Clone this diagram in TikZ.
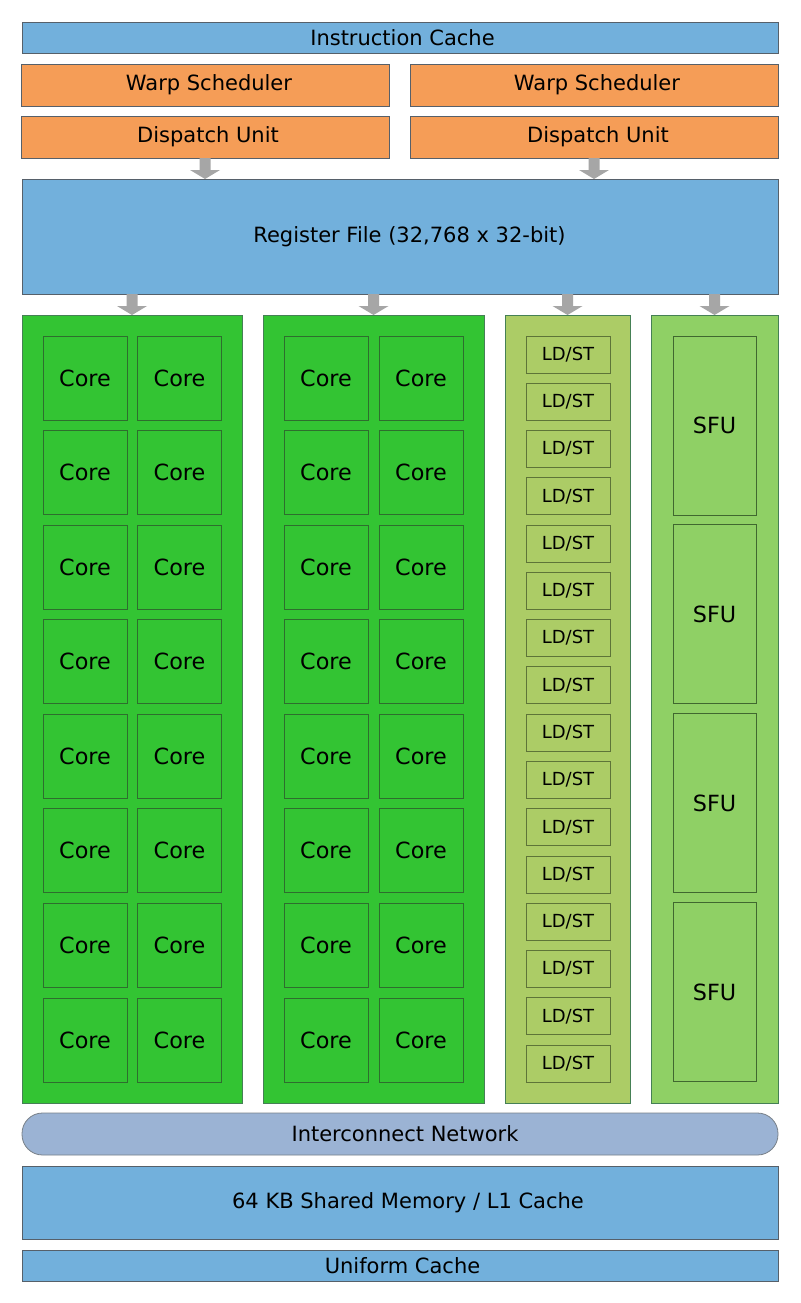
\documentclass[tikz,border=0pt]{standalone}
\usepackage{fontspec}
\setmainfont{DejaVu Sans}
\usetikzlibrary{calc}
\definecolor{cblue}{HTML}{72B0DC}
\definecolor{corange}{HTML}{F59D57}
\definecolor{cgreen}{HTML}{33C433}
\definecolor{cldst}{HTML}{ACCC66}
\definecolor{csfu}{HTML}{8FD065}
\definecolor{cicn}{HTML}{9BB3D4}
\definecolor{carrow}{HTML}{A6A6A6}
\definecolor{cstroke}{HTML}{56606A}
\definecolor{cgstroke}{HTML}{2E6E2E}
\definecolor{clstroke}{HTML}{5E7438}
\definecolor{csstroke}{HTML}{40682F}
\tikzset{
  box/.style={draw=cstroke, line width=0.8pt, inner sep=0pt, outer sep=0pt, rectangle, align=center},
  bigtext/.style={font=\fontsize{21}{24}\selectfont},
  bluebox/.style={box, bigtext, fill=cblue, minimum width=756pt},
  orangebox/.style={box, bigtext, fill=corange, minimum width=368pt, minimum height=42pt},
  column/.style={box, draw=cstroke!80!green, minimum height=788pt},
  corebox/.style={box, draw=cgstroke, fill=cgreen, minimum width=84pt, minimum height=84pt, font=\fontsize{22.3}{26}\selectfont},
  ldstbox/.style={box, draw=clstroke, fill=cldst, minimum width=84pt, minimum height=37pt, font=\fontsize{18}{21}\selectfont},
  sfubox/.style={box, draw=csstroke, fill=csfu, minimum width=83pt, minimum height=179pt, font=\fontsize{22.3}{26}\selectfont},
  icnbox/.style={box, bigtext, fill=cicn, draw=cstroke!80!white, rounded corners=20.5pt, minimum width=756pt, minimum height=42pt},
}
\newcommand\gpuarrow[2]{%
  \fill[carrow] ($(#1)+(-5.5,0)$) -- ($(#1)+(5.5,0)$) -- ($(#2)+(5.5,-9)$) -- ($(#2)+(15,-9)$) -- (#2) -- ($(#2)+(-15,-9)$) -- ($(#2)+(-5.5,-9)$) -- cycle;}
\begin{document}
\begin{tikzpicture}[x=1pt, y=-1pt]
\useasboundingbox (0,0) rectangle (800,1303);
\fill[white] (0,0) rectangle (800,1303);
% top
\node[bluebox, minimum height=31pt] (ic) at (400,37.5) {\hspace*{5pt}Instruction Cache};
\node[orangebox] (ws1) at (205,85) {\hspace*{8pt}Warp Scheduler};
\node[orangebox] (ws2) at (594,85) {\hspace*{6pt}Warp Scheduler};
\node[orangebox] (du1) at (205,137) {\hspace*{6pt}Dispatch Unit};
\node[orangebox] (du2) at (594,137) {\hspace*{8pt}Dispatch Unit};
\node[bluebox, minimum height=115pt] (rf) at (400,236.5) {\hspace*{19pt}Register File (32,768 x 32-bit)};
% columns
\node[column, fill=cgreen, minimum width=220pt] (c1) at (132,709) {};
\node[column, fill=cgreen, minimum width=221pt] (c2) at (373.5,709) {};
\node[column, fill=cldst, minimum width=125pt] (ld) at (567.5,709) {};
\node[column, fill=csfu, minimum width=127pt] (sf) at (714.5,709) {};
% cores
\foreach \i in {0,...,7}{
  \node[corebox] (ca\i) at (85,{378+94.57*\i}) {Core};
  \node[corebox] (cb\i) at (179.5,{378+94.57*\i}) {Core};
  \node[corebox] (cc\i) at (326,{378+94.57*\i}) {Core};
  \node[corebox] (cd\i) at (421,{378+94.57*\i}) {Core};
}
\foreach \i in {0,...,15}{
  \node[ldstbox] (l\i) at (568,{354.5+47.27*\i}) {LD/ST};
}
\foreach \i in {0,...,3}{
  \node[sfubox] (s\i) at (714.5,{425.5+188.8*\i}) {SFU};
}
% bottom
\node[icnbox] (icn) at (400,1134) {\hspace*{10pt}Interconnect Network};
\node[bluebox, minimum height=73pt] (sm) at (400,1202.5) {\hspace*{16pt}64 KB Shared Memory / L1 Cache};
\node[bluebox, minimum height=31pt] (uc) at (400,1265.5) {\hspace*{5pt}Uniform Cache};
% arrows
\coordinate (a1t) at (du1.south);
\coordinate (a1b) at (du1.south |- rf.north);
\coordinate (a2t) at (du2.south);
\coordinate (a2b) at (du2.south |- rf.north);
\gpuarrow{a1t}{a1b}
\gpuarrow{a2t}{a2b}
\foreach \c in {c1,c2,ld,sf}{
  \coordinate (t\c) at (\c.north |- rf.south);
  \coordinate (b\c) at (\c.north);
  \gpuarrow{t\c}{b\c}
}
\end{tikzpicture}
\end{document}
